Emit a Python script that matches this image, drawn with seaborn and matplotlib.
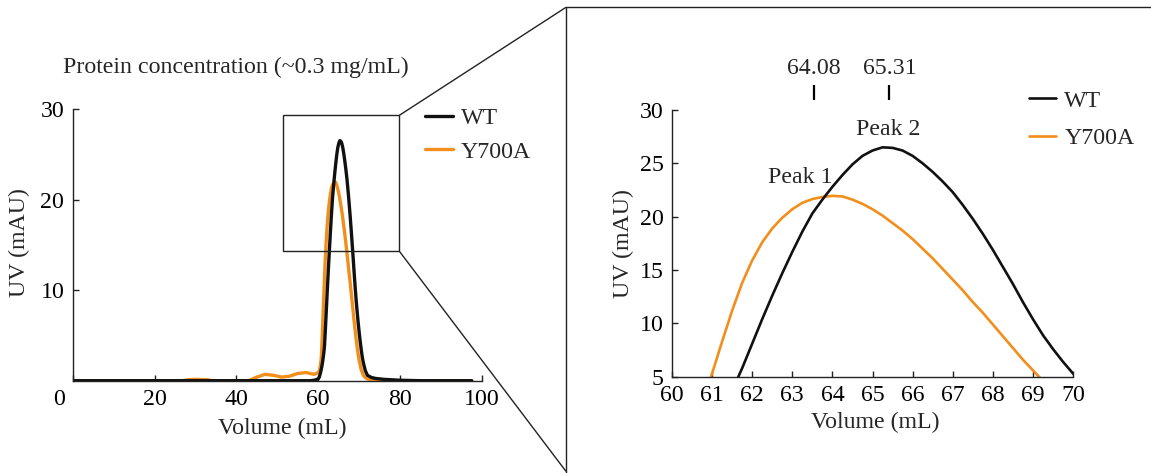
import numpy as np
import pandas as pd
import matplotlib
matplotlib.use("Agg")
import matplotlib.pyplot as plt
import seaborn as sns
from matplotlib.lines import Line2D
from matplotlib.patches import Rectangle, ConnectionPatch
from matplotlib.transforms import ScaledTranslation

# ---------------- data ----------------
volume = [0, 10, 20, 27, 28, 30, 33, 34, 40, 43, 45, 47, 49, 51, 53, 55, 57, 58, 59,
          60.0, 60.25, 60.5, 60.75, 61.0, 61.25, 61.5, 61.75, 62.0, 62.25, 62.5, 62.75,
          63.0, 63.25, 63.5, 63.75, 64.0, 64.25, 64.5, 64.75, 65.0, 65.25, 65.5, 65.75,
          66.0, 66.25, 66.5, 66.75, 67.0, 67.25, 67.5, 67.75, 68.0, 68.25, 68.5, 68.75,
          69.0, 69.25, 69.5, 69.75, 70.0, 70.25, 70.5, 70.75, 71.0, 71.5, 72, 73, 74,
          76, 78, 80, 85, 90, 97.5]
wt_uv = [0, 0, 0, 0, 0, 0, 0, 0, 0, 0, 0, 0, 0, 0, 0, 0, 0, 0, 0.05,
         0.2, 0.4, 0.8, 1.3, 1.9, 2.7, 3.7, 5.8, 8.1, 10.4, 12.6, 14.7,
         16.7, 18.6, 20.3, 21.6, 22.8, 23.9, 24.9, 25.7, 26.2, 26.5, 26.45, 26.2,
         25.7, 25.0, 24.2, 23.3, 22.3, 21.1, 19.8, 18.4, 16.9, 15.3, 13.7, 12.0,
         10.4, 8.9, 7.6, 6.4, 5.3, 4.3, 3.4, 2.6, 2.0, 1.1, 0.6, 0.35, 0.25,
         0.15, 0.1, 0.05, 0, 0, 0]
y700a_uv = [0, 0, 0, 0, 0.1, 0.15, 0.1, 0, 0, 0, 0.4, 0.7, 0.6, 0.4, 0.5, 0.8, 0.9, 0.8, 0.7,
            0.9, 1.1, 1.6, 2.6, 5.3, 8.3, 11.2, 13.8, 15.9, 17.6, 18.9, 19.9,
            20.7, 21.3, 21.65, 21.85, 21.95, 21.9, 21.6, 21.2, 20.7, 20.1, 19.4, 18.7,
            17.9, 17.0, 16.1, 15.1, 14.1, 13.1, 12.0, 11.0, 9.9, 8.8, 7.7, 6.6,
            5.6, 4.6, 3.7, 2.9, 2.2, 1.7, 1.2, 0.9, 0.6, 0.35, 0.2, 0.1, 0.05,
            0, 0, 0, 0, 0, 0]

series_names = ["WT", "Y700A"]
series_colors = ["#111111", "#F28E1C"]

left_xticks = [0, 20, 40, 60, 80, 100]
left_yticks = [10, 20, 30]
right_xticks = [60, 61, 62, 63, 64, 65, 66, 67, 68, 69, 70]
right_yticks = [5, 10, 15, 20, 25, 30]

zoom_box = [51.5, 79.8, 14.3, 29.3]          # x0, x1, y0, y1 in left-panel data units
peak_marker_x = [63.54, 65.42]
peak_marker_labels = ["64.08", "65.31"]
peak_names = ["Peak 1", "Peak 2"]
peak_name_x = [63.21, 65.39]
peak_name_y = [23.7, 28.2]

title_text = "Protein concentration (~0.3 mg/mL)"
xlabel_text = "Volume (mL)"
ylabel_text = "UV (mAU)"

# ---------------- long-form table ----------------
df = pd.concat([
    pd.DataFrame({"Volume": volume, "UV": wt_uv, "Sample": "WT"}),
    pd.DataFrame({"Volume": volume, "UV": y700a_uv, "Sample": "Y700A"}),
], ignore_index=True)
palette = dict(zip(series_names, series_colors))

# ---------------- style ----------------
sns.set_theme(style="ticks")
plt.rcParams["font.family"] = ["Liberation Serif", "DejaVu Serif"]
FS = 17.2
INK = "#222222"

W, H = 1151, 473
fig = plt.figure(figsize=(W / 100, H / 100), dpi=100)
fig.patch.set_facecolor("white")


def rect_px(x0, y0, x1, y1):
    return [x0 / W, 1 - y1 / H, (x1 - x0) / W, (y1 - y0) / H]


axL = fig.add_axes(rect_px(72.7, 109, 482, 380.7))
axR = fig.add_axes(rect_px(672, 110, 1073, 376.7))


def style_axis(ax):
    for s in ["top", "right"]:
        ax.spines[s].set_visible(False)
    for s in ["left", "bottom"]:
        ax.spines[s].set_color(INK)
        ax.spines[s].set_linewidth(1.0)
    ax.tick_params(direction="in", length=4.5, width=1.0, color=INK,
                   labelsize=FS, labelcolor="black", pad=6.0)
    ax.set_facecolor("white")
    ax.grid(False)


# ---------------- left panel ----------------
sns.lineplot(data=df, x="Volume", y="UV", hue="Sample", hue_order=["Y700A", "WT"],
             palette=palette, estimator=None, linewidth=2.4, ax=axL, legend=True)
axL.set_xlim(0, 100)
axL.set_ylim(0, 30)
axL.set_xticks(left_xticks)
axL.set_xticklabels([str(t) for t in left_xticks])
axL.set_yticks(left_yticks)
style_axis(axL)
# the "0" label sits left of the axis corner in the reference
lbl0 = axL.get_xticklabels()[0]
lbl0.set_transform(lbl0.get_transform() + ScaledTranslation(-0.14, 0, fig.dpi_scale_trans))

axL.set_xlabel(xlabel_text, fontsize=FS, va="center")
axL.xaxis.set_label_coords(0.511, -0.174)
axL.set_ylabel(ylabel_text, fontsize=FS, va="center")
axL.yaxis.set_label_coords(-0.129, 0.507)

h, l = axL.get_legend_handles_labels()
hd = dict(zip(l, h))
axL.legend([hd[n] for n in series_names], series_names, loc="upper left",
           bbox_to_anchor=(425 / W, 1 - 107.7 / H), bbox_transform=fig.transFigure,
           frameon=False, fontsize=FS, handlelength=1.18, handletextpad=0.33,
           labelspacing=0.48, borderpad=0, borderaxespad=0)

box = Rectangle((zoom_box[0], zoom_box[2]), zoom_box[1] - zoom_box[0],
                zoom_box[3] - zoom_box[2], fill=False, ec=INK, lw=1.0,
                clip_on=False, zorder=5)
axL.add_patch(box)

fig.text(236 / W, 1 - 67 / H, title_text, ha="center", va="center", fontsize=FS)

# ---------------- right panel ----------------
sns.lineplot(data=df, x="Volume", y="UV", hue="Sample", hue_order=["Y700A", "WT"],
             palette=palette, estimator=None, linewidth=1.9, ax=axR, legend=True)
axR.set_xlim(60, 70)
axR.set_ylim(5, 30)
axR.set_xticks(right_xticks)
axR.set_yticks(right_yticks)
style_axis(axR)
axR.set_xlabel(xlabel_text, fontsize=FS, va="center")
axR.xaxis.set_label_coords(0.506, -0.170)
axR.set_ylabel(ylabel_text, fontsize=FS, va="center")
axR.yaxis.set_label_coords(-0.122, 0.501)

h, l = axR.get_legend_handles_labels()
hd = dict(zip(l, h))
axR.legend([hd[n] for n in series_names], series_names, loc="upper left",
           bbox_to_anchor=(1029 / W, 1 - 90 / H), bbox_transform=fig.transFigure,
           frameon=False, fontsize=FS, handlelength=1.15, handletextpad=0.33,
           labelspacing=0.65, borderpad=0, borderaxespad=0)

for xm, lab in zip(peak_marker_x, peak_marker_labels):
    axR.plot([xm, xm], [30.97, 32.37], color="black", lw=1.6, clip_on=False,
             solid_capstyle="butt")
    axR.text(xm, 33.93, lab, ha="center", va="center", fontsize=FS, clip_on=False)
for xn, yn, name in zip(peak_name_x, peak_name_y, peak_names):
    axR.text(xn, yn, name, ha="center", va="center", fontsize=FS)

# ---------------- zoom connector / frame ----------------
fx = lambda x: x / W
fy = lambda y: 1 - y / H
fig.add_artist(Line2D([fx(565.7), fx(1151)], [fy(7.5), fy(7.5)], color=INK, lw=1.0))
fig.add_artist(Line2D([fx(565.7), fx(565.7)], [fy(7.5), fy(473)], color=INK, lw=1.0))
for (bx, by), (tx, ty) in [((zoom_box[1], zoom_box[3]), (565.7, 7.5)),
                           ((zoom_box[1], zoom_box[2]), (565.7, 471))]:
    con = ConnectionPatch(xyA=(bx, by), coordsA=axL.transData,
                          xyB=(fx(tx), fy(ty)), coordsB=fig.transFigure,
                          color=INK, lw=1.0)
    fig.add_artist(con)

fig.savefig("out.png", dpi=100, facecolor="white")
